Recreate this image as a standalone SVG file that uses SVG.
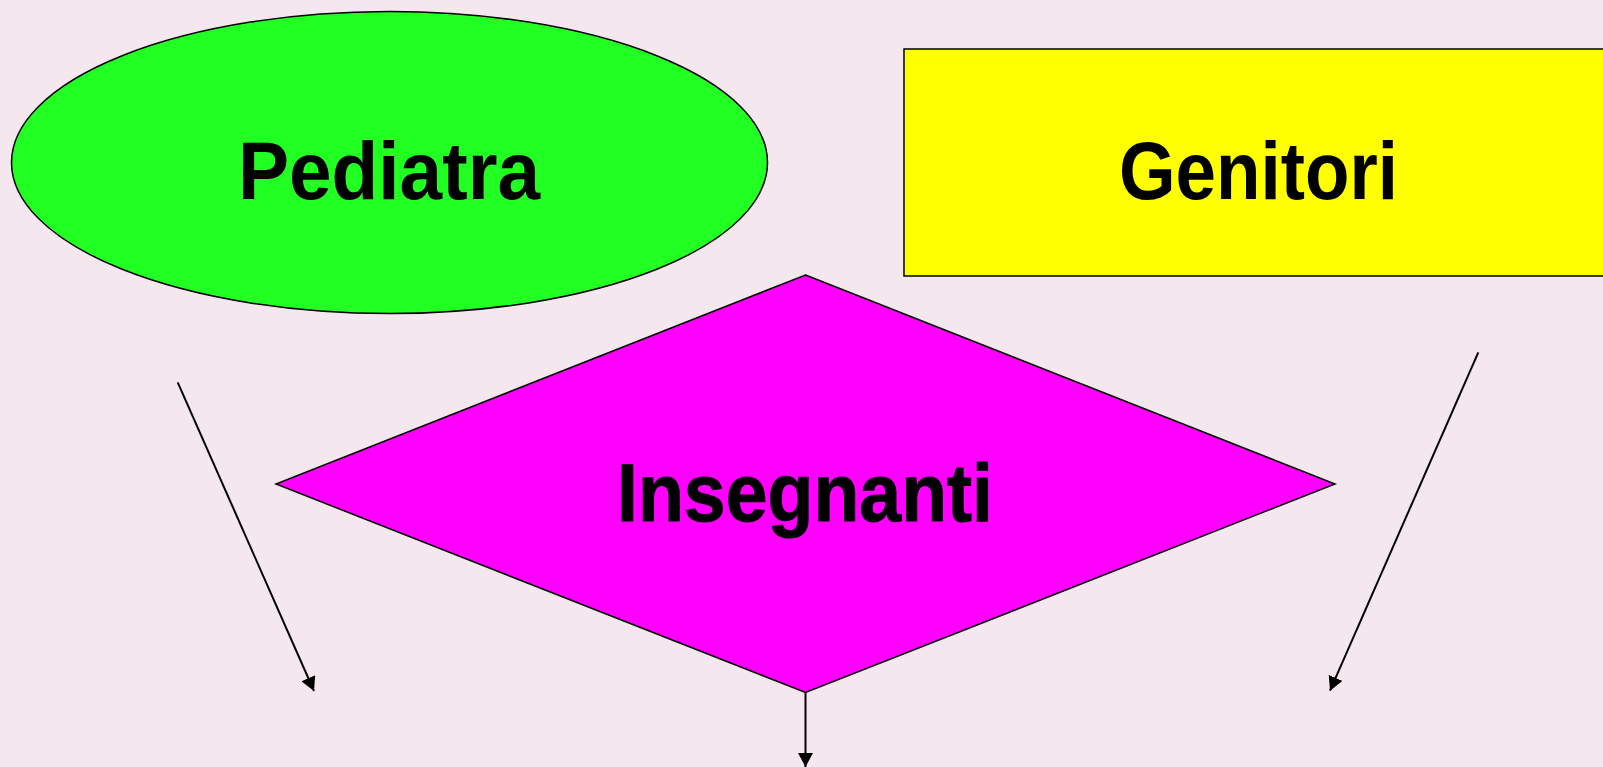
<svg xmlns="http://www.w3.org/2000/svg" width="1603" height="767" viewBox="0 0 1603 767">
  <defs>
    <style>
      .node { stroke: #000; stroke-width: 1.5; }
      .label { font-family: "Liberation Sans", Arial, sans-serif; font-weight: bold; fill: #000; }
      .conn { stroke: #000; stroke-width: 2; fill: none; marker-end: url(#arrow); }
    </style>
    <marker id="arrow" viewBox="0 0 14 15" refX="14" refY="7.5" markerWidth="14" markerHeight="15" markerUnits="userSpaceOnUse" orient="auto">
      <path d="M0,0 L14,7.5 L0,15 Z" fill="#000"/>
    </marker>
  </defs>

  <!-- background -->
  <rect x="0" y="0" width="1603" height="767" fill="#F4E7EE"/>

  <!-- Pediatra: green ellipse -->
  <g id="pediatra">
    <ellipse class="node" cx="389.5" cy="162.5" rx="378" ry="151" fill="#22FF22"/>
    <text class="label" x="238" y="199" font-size="82" textLength="302" lengthAdjust="spacingAndGlyphs">Pediatra</text>
  </g>

  <!-- Genitori: yellow box running off the right edge -->
  <g id="genitori">
    <rect class="node" x="904" y="49" width="720" height="227" fill="#FFFF00"/>
    <text class="label" x="1119" y="199" font-size="82" textLength="279" lengthAdjust="spacingAndGlyphs">Genitori</text>
  </g>

  <!-- Insegnanti: magenta diamond -->
  <g id="insegnanti">
    <polygon class="node" points="805.5,275 1335,484 805.5,692.5 276,484" fill="#FF00FF"/>
    <text class="label" x="617" y="521" font-size="82" textLength="376" lengthAdjust="spacingAndGlyphs" stroke="#000" stroke-width="1">Insegnanti</text>
  </g>

  <!-- connectors -->
  <g id="connectors">
    <line class="conn" x1="177.7" y1="382.3" x2="314" y2="691"/>
    <line class="conn" x1="1478.3" y1="352.3" x2="1330" y2="690.7"/>
    <line class="conn" x1="805.5" y1="692.5" x2="805.5" y2="767"/>
  </g>
</svg>
